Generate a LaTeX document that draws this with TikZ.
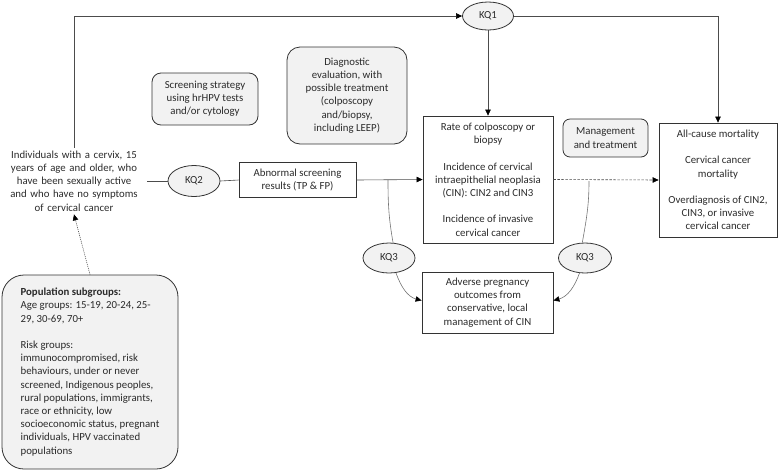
\documentclass[tikz,border=0pt]{standalone}
\usepackage{fontspec}
\setmainfont{Carlito}
\usetikzlibrary{shapes.geometric,arrows.meta}
\definecolor{txt}{HTML}{2B2B2B}
\definecolor{gfill}{HTML}{F2F2F2}
\tikzset{
  base/.style={font=\fontsize{10.8}{13.2}\selectfont, text=txt, align=center},
  box/.style={base, draw=black!80, fill=white, line width=0.8pt, inner sep=2pt},
  gbox/.style={box, fill=gfill, rounded corners=9pt},
  kq/.style={base, ellipse, draw=black!80, fill=gfill, line width=0.8pt, inner sep=0pt},
  conn/.style={draw=black!70, line width=0.6pt},
  tip/.style={-{Triangle[length=6pt,width=5.5pt,color=black]}},
  arr/.style={conn, tip},
  curv/.style={draw=black!55, line width=0.6pt},
}
\begin{document}
\begin{tikzpicture}[x=1pt,y=1pt]
\useasboundingbox (0,0) rectangle (778,-472);
% nodes
\node[kq, minimum width=51, minimum height=28] (kq1) at (488,-16) {KQ1};
\node[gbox, minimum width=106, minimum height=52] (screen) at (205,-99)
  {Screening strategy\\using hrHPV tests\\and/or cytology};
\node[gbox, rounded corners=13pt, minimum width=120, minimum height=97] (diag) at (347,-95.5)
  {Diagnostic\\evaluation, with\\possible treatment\\(colposcopy\\and/biopsy,\\including LEEP)};
\node[base, text width=134, inner xsep=6pt, inner ysep=3pt] (indiv) at (74,-181)
  {Individuals with a cervix, 15\\years of age and older, who\\have been sexually active\\and who have no symptoms\\of cervical cancer};
\node[kq, minimum width=52, minimum height=31] (kq2) at (194,-181) {KQ2};
\node[box, minimum width=117, minimum height=35] (abn) at (297.5,-180)
  {Abnormal screening\\results (TP \& FP)};
\node[box, minimum width=130, minimum height=127] (rate) at (488,-179.5)
  {Rate of colposcopy or\\biopsy\\[13.2pt]Incidence of cervical\\intraepithelial neoplasia\\(CIN): CIN2 and CIN3\\[13.2pt]Incidence of invasive\\cervical cancer};
\node[gbox, rounded corners=7pt, minimum width=85, minimum height=38] (mgmt) at (605.5,-138)
  {Management\\and treatment};
\node[box, minimum width=118, minimum height=114] (allc) at (718,-180)
  {All-cause mortality\\[13.2pt]Cervical cancer\\mortality\\[13.2pt]Overdiagnosis of CIN2,\\CIN3, or invasive\\cervical cancer};
\node[kq, minimum width=52, minimum height=30] (kq3a) at (389,-258) {KQ3};
\node[kq, minimum width=53, minimum height=30] (kq3b) at (585,-258) {KQ3};
\node[box, minimum width=131, minimum height=61] (adv) at (487.5,-302.5)
  {Adverse pregnancy\\outcomes from\\conservative, local\\management of CIN};
\node[gbox, rounded corners=22pt, align=left, minimum width=176, minimum height=194] (pop) at (90,-372)
  {\textbf{Population subgroups:}\\Age groups: 15-19, 20-24, 25-\\29, 30-69, 70+\\[13.2pt]Risk groups:\\immunocompromised, risk\\behaviours, under or never\\screened, Indigenous peoples,\\rural populations, immigrants,\\race or ethnicity, low\\socioeconomic status, pregnant\\individuals, HPV vaccinated\\populations};
% coordinates for curve starts
\coordinate (c1) at (388,-180);
\coordinate (c2) at (589,-181);
% connectors
\draw[arr] (indiv.north) |- (kq1.west);
\draw[arr] (kq1.east) -| (allc.north);
\draw[arr] (kq1.south) -- (rate.north);
\draw[conn] (indiv.east) -- (kq2.west);
\draw[conn] (kq2.east) -- (abn.west);
\draw[arr] (abn.east) -- (rate.west);
\draw[arr, dash pattern=on 2.5pt off 1.5pt] (rate.east) -- (allc.west);
\draw[arr, dash pattern=on 1pt off 1pt] (pop.north) -- (indiv.south);
\draw[curv] (c1) to[out=-90,in=100] (kq3a.75);
\draw[curv, tip] (kq3a.-65) to[out=-70,in=165] ([yshift=2pt]adv.west);
\draw[curv] (c2) to[out=-90,in=80] (kq3b.100);
\draw[curv, tip] (kq3b.-110) to[out=-110,in=15] ([yshift=2pt]adv.east);
\end{tikzpicture}
\end{document}
